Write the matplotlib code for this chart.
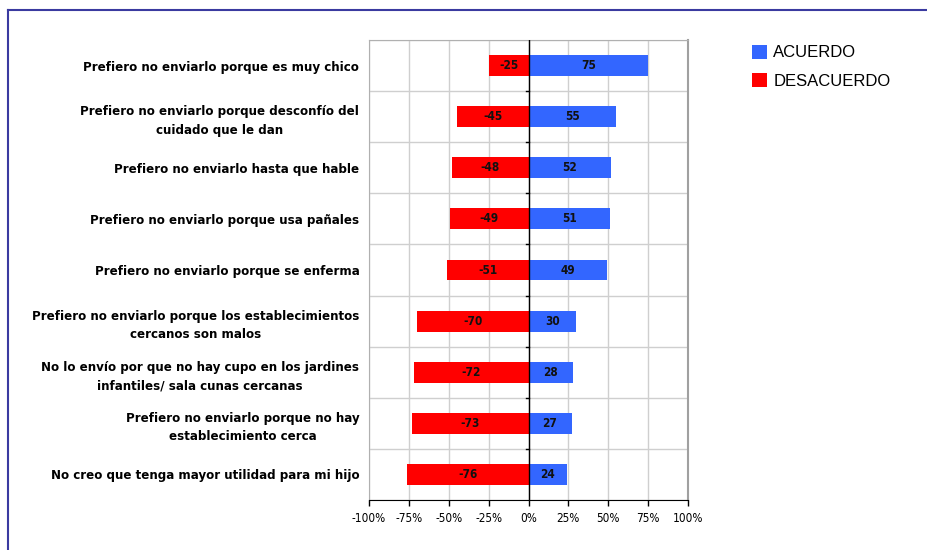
import matplotlib
matplotlib.use("Agg")
import matplotlib.pyplot as plt
from matplotlib import font_manager
from matplotlib.lines import Line2D
import numpy as np

categories = [
    "Prefiero no enviarlo porque es muy chico",
    "Prefiero no enviarlo porque desconfío del\ncuidado que le dan",
    "Prefiero no enviarlo hasta que hable",
    "Prefiero no enviarlo porque usa pañales",
    "Prefiero no enviarlo porque se enferma",
    "Prefiero no enviarlo porque los establecimientos\ncercanos son malos",
    "No lo envío por que no hay cupo en los jardines\ninfantiles/ sala cunas cercanas",
    "Prefiero no enviarlo porque no hay\nestablecimiento cerca",
    "No creo que tenga mayor utilidad para mi hijo",
]
acuerdo = [75, 55, 52, 51, 49, 30, 28, 27, 24]
desacuerdo = [-25, -45, -48, -49, -51, -70, -72, -73, -76]
xticks = [-100, -75, -50, -25, 0, 25, 50, 75, 100]

blue = "#3366ff"
red = "#ff0000"

names = {f.name for f in font_manager.fontManager.ttflist}
if "Liberation Sans Narrow" in names:
    narrow = dict(family="Liberation Sans Narrow")
else:
    narrow = dict(family="DejaVu Sans", stretch="condensed")

fig = plt.figure(figsize=(9.28, 5.5), dpi=100)
ax = fig.add_axes([369 / 928, 1 - 500 / 550, 319 / 928, 460 / 550])

n = len(categories)
y = np.arange(n)[::-1]
h = 0.41

ax.barh(y, desacuerdo, height=h, color=red, label="DESACUERDO", zorder=3)
ax.barh(y, acuerdo, height=h, color=blue, label="ACUERDO", zorder=3)

for yi, a, d in zip(y, acuerdo, desacuerdo):
    ax.text(a / 2, yi, f"{a}", ha="center", va="center", fontsize=8.5,
            fontweight="bold", color="#111111", zorder=4, **narrow)
    ax.text(d / 2, yi, f"{d}", ha="center", va="center", fontsize=8.5,
            fontweight="bold", color="#111111", zorder=4, **narrow)

ax.set_xlim(-100, 100)
ax.set_ylim(-0.5, n - 0.5)
ax.set_xticks(xticks)
ax.set_xticklabels([f"{v}%" for v in xticks], fontsize=8.5, **narrow)
ax.tick_params(axis="x", direction="out", length=4, width=1, color="black", pad=5)

ax.set_yticks(y)
ax.set_yticklabels(categories, fontsize=8.6, fontweight="bold",
                   multialignment="center", linespacing=1.55)
ax.tick_params(axis="y", length=0, pad=7)

# grid
bounds = np.arange(n + 1) - 0.5
ax.set_yticks(bounds, minor=True)
ax.tick_params(axis="y", which="minor", length=0)
ax.grid(True, which="minor", axis="y", color="#cfcfcf", lw=1, zorder=0)
ax.grid(True, which="major", axis="x", color="#cfcfcf", lw=1, zorder=0)

# zero line with small ticks
ax.axvline(0, color="black", lw=1, zorder=5)
for b in bounds[1:-1]:
    ax.plot([-1.8, 0], [b, b], color="black", lw=1, zorder=5)

for s in ["left", "top"]:
    ax.spines[s].set_color("#b0b0b0")
ax.spines["right"].set_color("#a0a0a0")
ax.spines["right"].set_linewidth(1.5)
ax.spines["bottom"].set_color("black")

handles, labels = ax.get_legend_handles_labels()
leg = fig.legend(handles[::-1], labels[::-1], loc="upper left",
                 bbox_to_anchor=(745 / 928, 1 - 38 / 550), frameon=False,
                 prop={"family": "Liberation Sans", "size": 12},
                 handlelength=0.9, handleheight=0.9, handletextpad=0.4,
                 labelspacing=0.75, borderaxespad=0)

# outer border
fig.add_artist(Line2D([8.5 / 928, 8.5 / 928], [0, 1 - 10 / 550],
                      color="#3a3aa0", lw=1.5, transform=fig.transFigure))
fig.add_artist(Line2D([8.5 / 928, 1], [1 - 10 / 550, 1 - 10 / 550],
                      color="#3a3aa0", lw=1.5, transform=fig.transFigure))

fig.savefig("out.png", dpi=100)
